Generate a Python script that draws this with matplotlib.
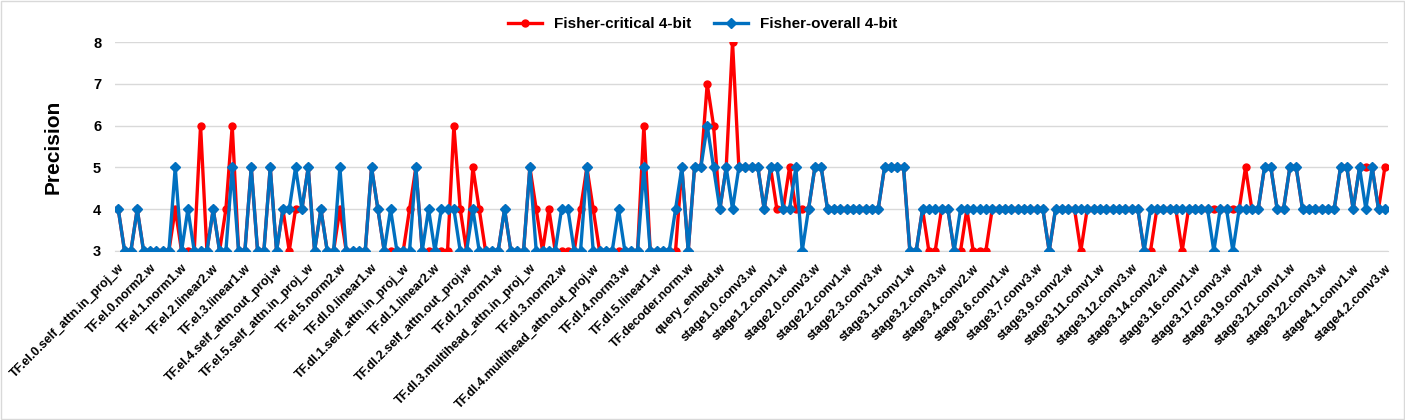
import numpy as np
import matplotlib.pyplot as plt
from matplotlib.patches import Rectangle

# tick labels, one every 5 layers
tick_labels = ["TF.el.0.self_attn.in_proj_w", "TF.el.0.norm2.w", "TF.el.1.norm1.w", "TF.el.2.linear2.w",
               "TF.el.3.linear1.w", "TF.el.4.self_attn.out_proj.w", "TF.el.5.self_attn.in_proj_w",
               "TF.el.5.norm2.w", "TF.dl.0.linear1.w", "TF.dl.1.self_attn.in_proj_w", "TF.dl.1.linear2.w",
               "TF.dl.2.self_attn.out_proj.w", "TF.dl.2.norm1.w", "TF.dl.3.multihead_attn.in_proj_w",
               "TF.dl.3.norm2.w", "TF.dl.4.multihead_attn.out_proj.w", "TF.dl.4.norm3.w", "TF.dl.5.linear1.w",
               "TF.decoder.norm.w", "query_embed.w", "stage1.0.conv3.w", "stage1.2.conv1.w", "stage2.0.conv3.w",
               "stage2.2.conv1.w", "stage2.3.conv3.w", "stage3.1.conv1.w", "stage3.2.conv3.w",
               "stage3.4.conv2.w", "stage3.6.conv1.w", "stage3.7.conv3.w", "stage3.9.conv2.w",
               "stage3.11.conv1.w", "stage3.12.conv3.w", "stage3.14.conv2.w", "stage3.16.conv1.w",
               "stage3.17.conv3.w", "stage3.19.conv2.w", "stage3.21.conv1.w", "stage3.22.conv3.w",
               "stage4.1.conv1.w", "stage4.2.conv3.w"]

fisher_critical = [4, 3, 3, 4, 3, 3, 3, 3, 3, 4,
                   3, 3, 3, 6, 3, 4, 3, 4, 6, 3,
                   3, 5, 3, 3, 5, 3, 4, 3, 4, 4,
                   5, 3, 4, 3, 3, 4, 3, 3, 3, 3,
                   5, 4, 3, 3, 3, 3, 4, 5, 3, 3,
                   3, 3, 3, 6, 4, 3, 5, 4, 3, 3,
                   3, 4, 3, 3, 3, 5, 4, 3, 4, 3,
                   3, 3, 3, 4, 5, 4, 3, 3, 3, 3,
                   3, 3, 3, 6, 3, 3, 3, 3, 3, 5,
                   3, 5, 5, 7, 6, 4, 5, 8, 5, 5,
                   5, 5, 4, 5, 4, 4, 5, 4, 4, 4,
                   5, 5, 4, 4, 4, 4, 4, 4, 4, 4,
                   4, 5, 5, 5, 5, 3, 3, 4, 3, 3,
                   4, 4, 3, 3, 4, 3, 3, 3, 4, 4,
                   4, 4, 4, 4, 4, 4, 4, 3, 4, 4,
                   4, 4, 3, 4, 4, 4, 4, 4, 4, 4,
                   4, 4, 3, 3, 4, 4, 4, 4, 3, 4,
                   4, 4, 4, 4, 4, 4, 4, 4, 5, 4,
                   4, 5, 5, 4, 4, 5, 5, 4, 4, 4,
                   4, 4, 4, 5, 5, 4, 5, 5, 5, 4,
                   5]

fisher_overall = [4, 3, 3, 4, 3, 3, 3, 3, 3, 5,
                  3, 4, 3, 3, 3, 4, 3, 3, 5, 3,
                  3, 5, 3, 3, 5, 3, 4, 4, 5, 4,
                  5, 3, 4, 3, 3, 5, 3, 3, 3, 3,
                  5, 4, 3, 4, 3, 3, 3, 5, 3, 4,
                  3, 4, 4, 4, 3, 3, 4, 3, 3, 3,
                  3, 4, 3, 3, 3, 5, 3, 3, 3, 3,
                  4, 4, 3, 3, 5, 3, 3, 3, 3, 4,
                  3, 3, 3, 5, 3, 3, 3, 3, 4, 5,
                  3, 5, 5, 6, 5, 4, 5, 4, 5, 5,
                  5, 5, 4, 5, 5, 4, 4, 5, 3, 4,
                  5, 5, 4, 4, 4, 4, 4, 4, 4, 4,
                  4, 5, 5, 5, 5, 3, 3, 4, 4, 4,
                  4, 4, 3, 4, 4, 4, 4, 4, 4, 4,
                  4, 4, 4, 4, 4, 4, 4, 3, 4, 4,
                  4, 4, 4, 4, 4, 4, 4, 4, 4, 4,
                  4, 4, 3, 4, 4, 4, 4, 4, 4, 4,
                  4, 4, 4, 3, 4, 4, 3, 4, 4, 4,
                  4, 5, 5, 4, 4, 5, 5, 4, 4, 4,
                  4, 4, 4, 5, 5, 4, 5, 4, 5, 4,
                  4]

if __name__ == "__main__":
    plt.rcParams['font.family'] = ['Liberation Sans', 'DejaVu Sans']

    x = np.arange(len(fisher_overall))

    fig = plt.figure(figsize=(14.05, 4.2), dpi=100)
    ax = fig.add_axes([0.0819, 0.4024, 0.906, 0.4976])

    ax.plot(x, fisher_critical, color='#FF0000', lw=2.4, marker='o', ms=5,
            label='Fisher-critical 4-bit', zorder=3)
    ax.plot(x, fisher_overall, color='#0070C0', lw=2.4, marker='D', ms=5,
            label='Fisher-overall 4-bit', zorder=4)

    ax.set_xlim(-0.5, len(x) - 0.5)
    ax.set_ylim(3, 8)
    ax.set_yticks([3, 4, 5, 6, 7, 8])
    ax.grid(axis='y', color='#D9D9D9', lw=1)
    ax.set_axisbelow(True)
    for s in ['top', 'right', 'left']:
        ax.spines[s].set_visible(False)
    ax.spines['bottom'].set_color('#D9D9D9')

    ax.set_xticks(x[::5])
    ax.set_xticklabels(tick_labels, rotation=45, ha='right', rotation_mode='anchor',
                       fontsize=9, fontweight='bold')
    ax.tick_params(axis='x', length=0, pad=8)
    ax.tick_params(axis='y', length=0, pad=10, labelsize=10.5)
    for t in ax.get_yticklabels():
        t.set_fontweight('bold')

    ax.set_ylabel('Precision', fontsize=15, fontweight='bold', labelpad=22)

    fig.legend(loc='center', bbox_to_anchor=(0.5, 0.943), ncol=2, frameon=False,
               prop={'weight': 'bold', 'size': 11}, handlelength=2.2, columnspacing=1.5)

    fig.patches.append(Rectangle((0.001, 0.002), 0.998, 0.996, transform=fig.transFigure,
                                 fill=False, edgecolor='#D9D9D9', lw=1))

    plt.savefig("out.png", dpi=100)
